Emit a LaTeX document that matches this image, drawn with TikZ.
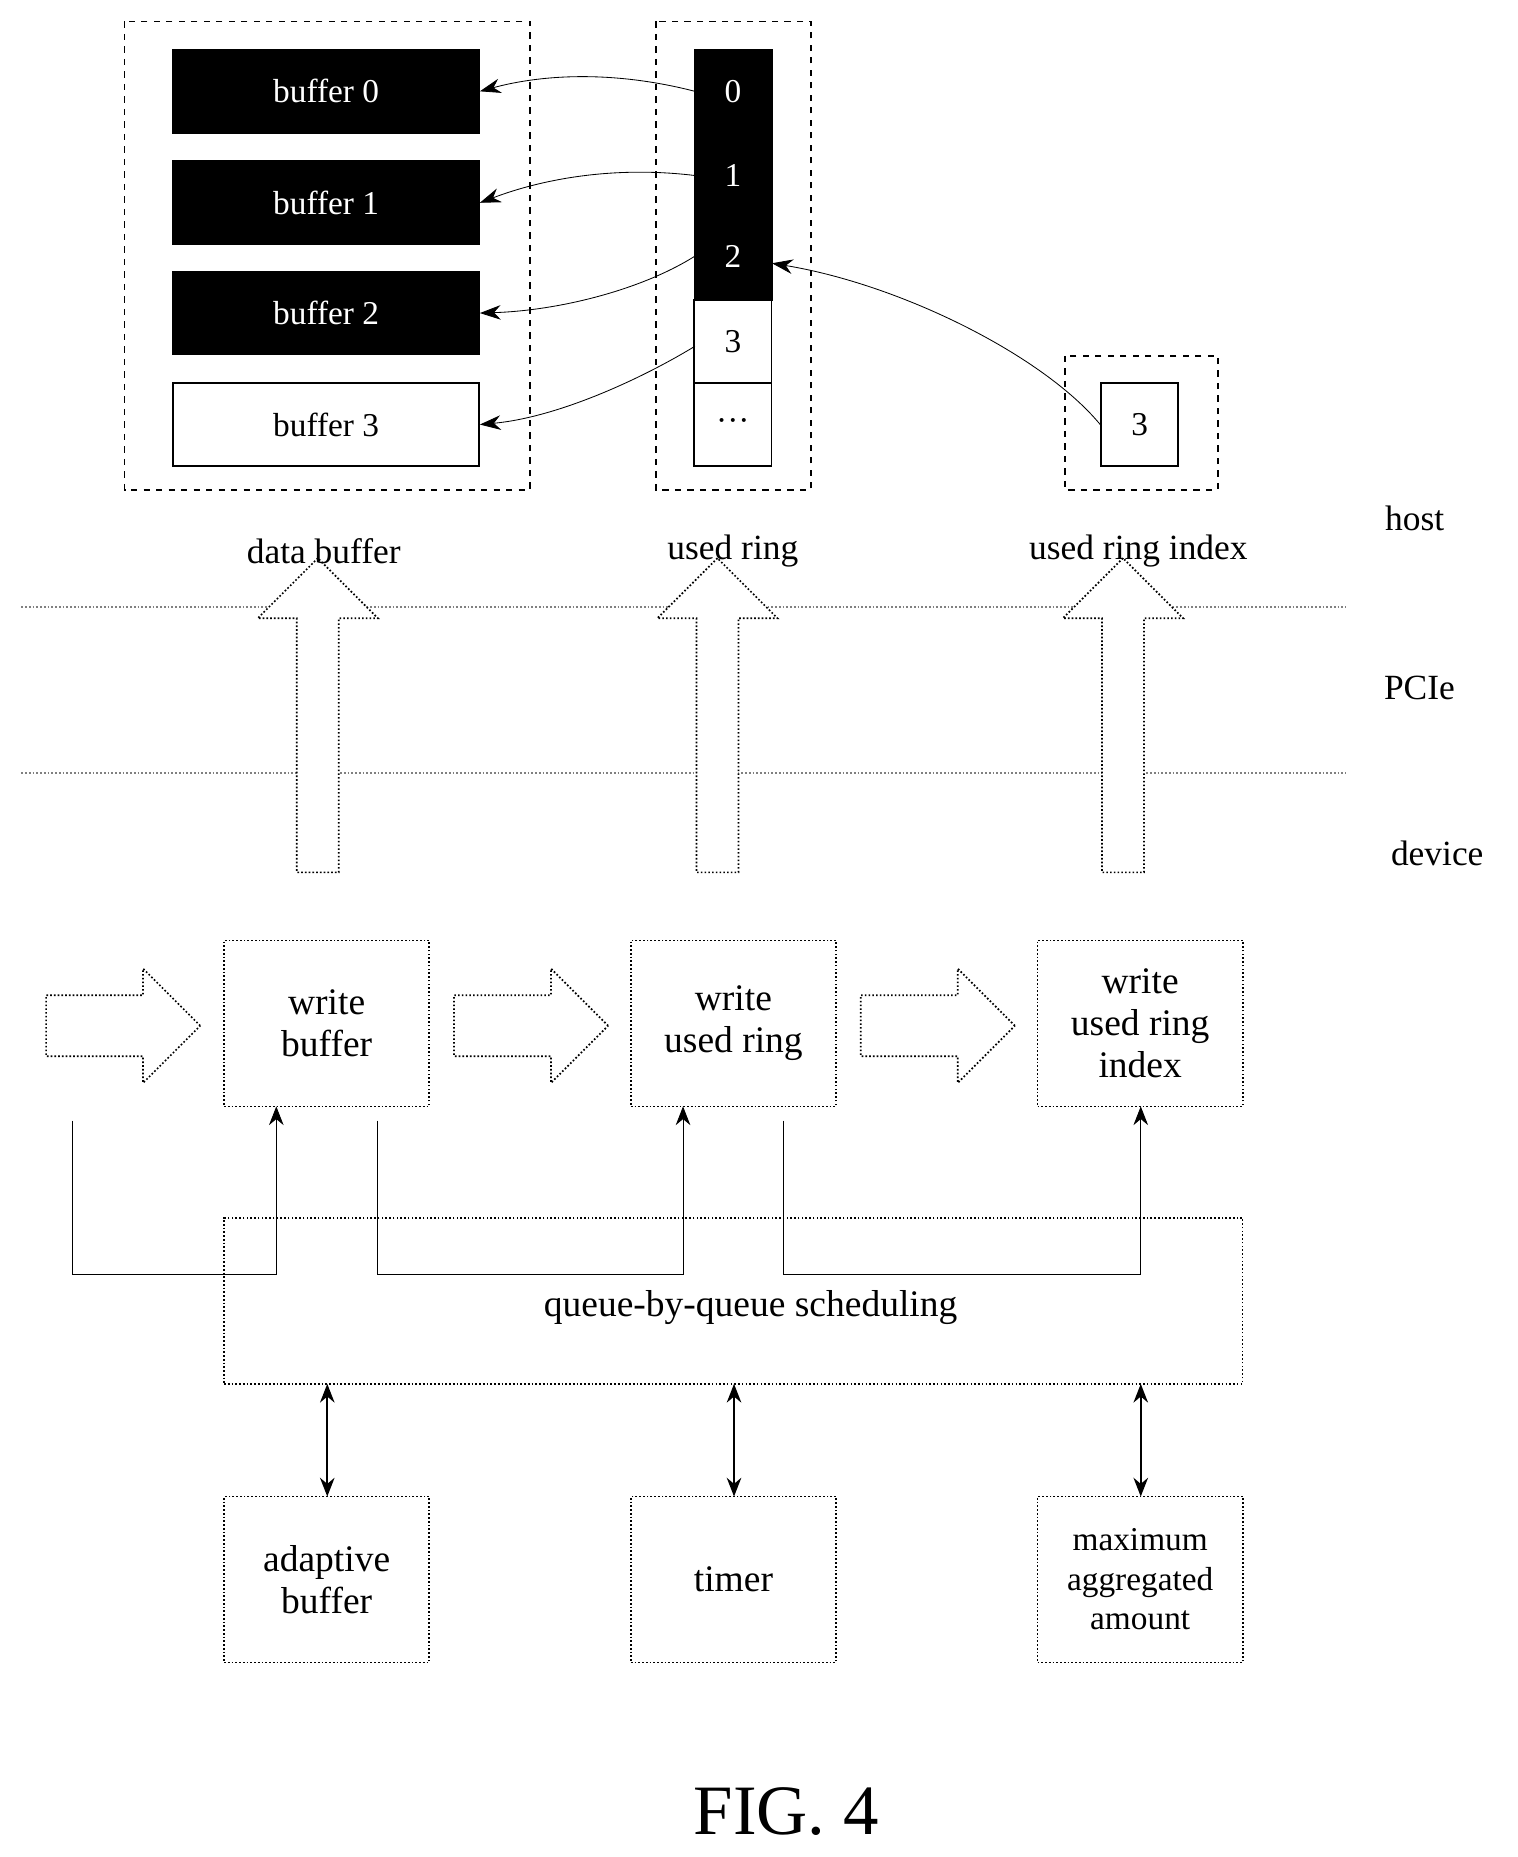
\documentclass[tikz,border=0pt]{standalone}
\usepackage{fontspec}
\setmainfont{Liberation Serif}
\usetikzlibrary{arrows.meta,shapes.arrows}
\begin{document}
\begin{tikzpicture}[x=0.02cm,y=-0.02cm,
 dbox/.style={draw,dashed,thick},
 box/.style={draw,densely dotted,thick,minimum width=3.46cm,minimum height=2.8cm,align=center,font=\fontsize{18}{20}\selectfont,inner sep=1pt},
 buf/.style={draw,thick,minimum width=5.16cm,minimum height=1.4cm,font=\fontsize{16}{18}\selectfont},
 cell/.style={draw,thick,minimum width=1.3cm,minimum height=1.4cm,font=\fontsize{16}{18}\selectfont},
 lbl/.style={font=\fontsize{17}{19}\selectfont},
 curv/.style={-{Stealth[length=10pt,width=7pt]}},
 line/.style={thin},
 uparr/.style={draw,densely dotted,thick,single arrow,shape border rotate=90,minimum height=5.3cm,minimum width=2cm,single arrow head extend=0.66cm,single arrow tip angle=90,inner sep=0.34cm,single arrow head indent=0pt},
 rarr/.style={draw,densely dotted,thick,single arrow,minimum height=2.6cm,minimum width=1.9cm,single arrow head extend=0.45cm,inner xsep=0pt,inner ysep=0.5cm,single arrow tip angle=90},
 darr/.style={{Stealth[length=9pt,width=7pt]}-{Stealth[length=9pt,width=7pt]},thick}]
\useasboundingbox (0,0) rectangle (1280,1566);
% host
\draw[dbox] (105,18) rectangle (447,413);
\node[buf,fill=black,text=white] (b0) at (275,77) {buffer 0};
\node[buf,fill=black,text=white] (b1) at (275,171) {buffer 1};
\node[buf,fill=black,text=white] (b2) at (275,264) {buffer 2};
\node[buf] (b3) at (275,358) {buffer 3};
\draw[dbox] (553,18) rectangle (684,413);
\fill (586,42) rectangle (651,253);
\node[cell,draw=none,text=white] (c0) at (618,77) {0};
\node[cell,draw=none,text=white] (c1) at (618,148) {1};
\node[cell,draw=none,text=white] (c2) at (618,216) {2};
\node[cell] (c3) at (618,288) {3};
\node[cell] (c4) at (618,358) {\textperiodcentered\textperiodcentered\textperiodcentered};
\draw[thick] (586,42) rectangle (651,253);
\draw[dbox] (898,300) rectangle (1027,413);
\node[cell] (idx) at (961,358) {3};
\draw[curv] (586,77) .. controls (520,60) and (460,62) .. (b0.east);
\draw[curv] (586,148) .. controls (520,140) and (460,150) .. (b1.east);
\draw[curv] (586,216) .. controls (540,245) and (470,262) .. (b2.east);
\draw[curv] (586,292) .. controls (540,320) and (470,352) .. (b3.east);
\draw[curv] (idx.west) .. controls (880,300) and (760,240) .. (651,222);
\draw[densely dotted,thick,gray] (18,512) -- (1135,512);
\draw[densely dotted,thick,gray] (18,652) -- (1135,652);
\node[uparr,fill=white] (u1) at (268,612) {};
\node[uparr,fill=white] (u2) at (605,612) {};
\node[uparr,fill=white] (u3) at (947,612) {};
\node[lbl] (l1) at (273,465) {data buffer};
\node[lbl] (l2) at (618,465) {used ring};
\node[lbl] (l3) at (960,465) {used ring index};
\node[lbl] (host) at (1193,437) {host};
\node[lbl] (pcie) at (1197,580) {PCIe};
\node[lbl] (dev) at (1212,720) {device};
% device
\node[box] (w1) at (275.5,863) {write\\buffer};
\node[box] (w2) at (618.5,863) {write\\used ring};
\node[box] (w3) at (961.5,863) {write\\used ring\\index};
\node[rarr] (r1) at (91,865) {};
\node[rarr] (r2) at (435,865) {};
\node[rarr] (r3) at (778,865) {};
\node[draw,densely dotted,thick,minimum width=17.18cm,minimum height=2.8cm] (sch) at (618.5,1097) {};
\node[font=\fontsize{18}{20}\selectfont] (scht) at (633,1103) {queue-by-queue scheduling};
\coordinate (p1) at (61,945);
\coordinate (p2) at (318,945);
\coordinate (p3) at (661,945);
\draw[line,-{Stealth[length=9pt,width=7pt]}] (p1) |- (233,1075) -- (233,933);
\draw[line,-{Stealth[length=9pt,width=7pt]}] (p2) |- (576,1075) -- (576,933);
\draw[line,-{Stealth[length=9pt,width=7pt]}] (p3) |- (962,1075) -- (962,933);
\node[box] (a1) at (275.5,1332) {adaptive\\buffer};
\node[box] (a2) at (618.5,1332) {timer};
\node[box,font=\fontsize{16}{19}\selectfont] (a3) at (961.5,1332) {maximum\\aggregated\\amount};
\draw[darr] (276,1167) -- (276,1262);
\draw[darr] (619,1167) -- (619,1262);
\draw[darr] (962,1167) -- (962,1262);
\node[font=\fontsize{34}{36}\selectfont] (fig) at (663,1528) {FIG. 4};
\end{tikzpicture}
\end{document}
